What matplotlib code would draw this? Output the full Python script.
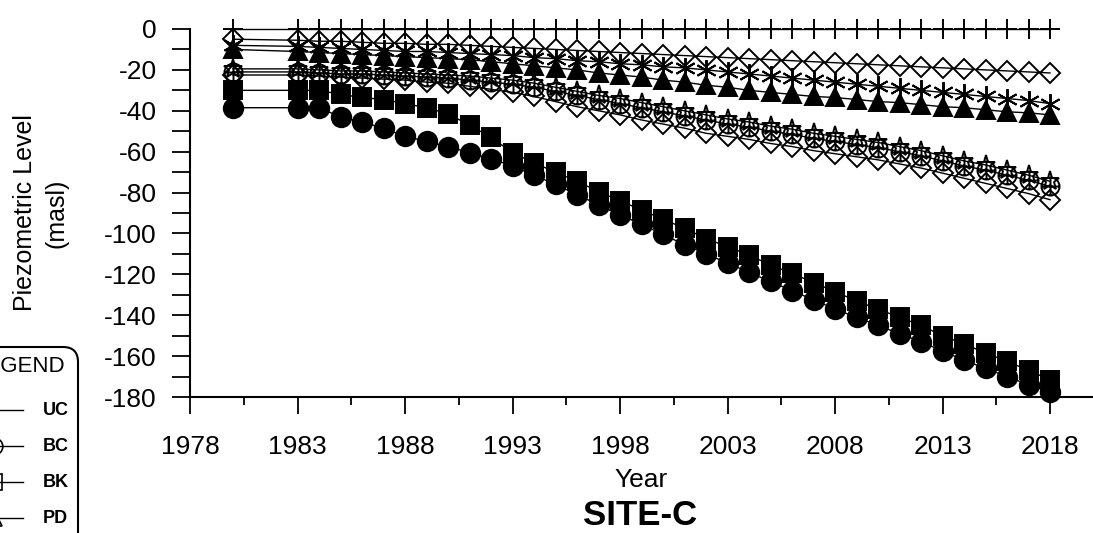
import matplotlib
matplotlib.use("Agg")
import matplotlib.pyplot as plt
import numpy as np
from matplotlib.lines import Line2D
from matplotlib.patches import FancyBboxPatch
from matplotlib.path import Path

plt.rcParams["font.family"] = ["Liberation Sans", "DejaVu Sans"]
plt.rcParams["axes.unicode_minus"] = False

# ---- data (masl) ----
years = [1980, 1983, 1984, 1985, 1986, 1987, 1988, 1989, 1990, 1991,
         1992, 1993, 1994, 1995, 1996, 1997, 1998, 1999, 2000, 2001,
         2002, 2003, 2004, 2005, 2006, 2007, 2008, 2009, 2010, 2011,
         2012, 2013, 2014, 2015, 2016, 2017, 2018]

plus_level = [0, 0, 0, 0, 0, 0, 0, 0, 0, 0,
              0, 0, 0, 0, 0, 0, 0, 0, 0, 0,
              0, 0, 0, 0, 0, 0, 0, 0, 0, 0,
              0, 0, 0, 0, 0, 0, 0]

diamond_hi = [-5, -5.5, -6, -6, -6.5, -7, -7, -7.5, -7.5, -8,
              -8.5, -9, -9.5, -10, -10.5, -11, -11.5, -12, -12.5, -13,
              -13.5, -14, -14.5, -15, -15.5, -16, -16.5, -17, -17.5, -18,
              -18.5, -19, -19.5, -20, -20.5, -21, -21.5]

asterisk = [-8, -8.5, -9, -9.5, -10, -10.5, -11, -11, -11.5, -12,
            -12.5, -13, -14, -14.5, -15.5, -16, -17, -17.5, -18.5, -19,
            -20, -21, -22, -23, -24, -25, -26, -27, -28, -29,
            -30, -31, -32, -33, -34, -35, -36.5]

triangle = [-10, -11, -11.5, -12, -12.5, -13, -13.5, -14, -14.5, -15,
            -16, -17, -18, -19, -20, -21.5, -22.5, -23.5, -25, -26,
            -27.5, -28.5, -30, -31, -32, -33, -33.5, -34.5, -35.5, -36,
            -37, -38, -38.5, -39.5, -40.5, -41, -42]

star = [-19.5, -19.5, -20, -20.5, -20.5, -21, -21.5, -22, -22.5, -23,
        -24, -25, -26.5, -28.5, -30.5, -32.5, -34, -36, -38, -40,
        -42, -44, -45.5, -47.5, -49, -51, -52.5, -54, -55.5, -57.5,
        -59.5, -62, -64.5, -66.5, -69, -71.5, -74.5]

circ_cross = [-21, -21, -21.5, -22, -22, -22.5, -23, -23.5, -24, -25,
              -26, -27, -28.5, -30.5, -32.5, -34.5, -36.5, -38.5, -40.5, -42.5,
              -44.5, -46.5, -48, -50, -51.5, -53.5, -55, -56.5, -58, -60,
              -62, -64.5, -67, -69, -71.5, -74, -77]

diamond_lo = [-22.5, -22.5, -23, -23.5, -24, -24.5, -25, -26, -26.5, -28,
              -29.5, -31, -33, -35.5, -38, -40, -42, -44.5, -46.5, -48.5,
              -51, -52.5, -54, -56, -57.5, -59.5, -61, -62.5, -64, -66,
              -68, -70.5, -73, -75.5, -78, -80.5, -83.5]

square = [-30, -30, -30, -32, -33.5, -34.5, -36.5, -38.5, -41.5, -47,
          -53, -60.5, -65.5, -70, -74.5, -79.5, -84, -88.5, -93, -97.5,
          -102.5, -106.5, -110.5, -115.5, -119.5, -124, -128.5, -133, -137, -141,
          -145, -150, -154, -158.5, -162.5, -167, -171.5]

circle = [-38.5, -38.5, -38.5, -43, -45.5, -48.5, -52.5, -55, -57.5, -60.5,
          -63.5, -67, -71.5, -76, -81, -86, -91, -95.5, -100.5, -105.5,
          -110, -114.5, -119, -123.5, -128, -132.5, -137, -141, -145, -149,
          -153, -157.5, -162, -166, -170, -174, -177.5]

legend_labels = ["UC", "BC", "BK", "PD"]
legend_marks = [None, "o", "s", "^"]

# circle with a cross inside
m_cc = Path.make_compound_path(
    Path.unit_circle(),
    Path([(-1, 0), (1, 0), (0, -1), (0, 1)],
         [Path.MOVETO, Path.LINETO, Path.MOVETO, Path.LINETO]))

W, H = 1093, 533
fig = plt.figure(figsize=(W / 100, H / 100), dpi=100)
ax = fig.add_axes([190 / W, 1 - 397 / H, (W - 190) / W, (397 - 29) / H])

kw = dict(color="black", lw=1.0, mew=1.4, clip_on=False)
ax.plot(years, plus_level, marker="+", ms=14, **kw)
ax.plot(years, diamond_hi, marker="D", ms=10, mfc="none", **kw)
ax.plot(years, asterisk, marker=(6, 2, 0), ms=15, **kw)
ax.plot(years, triangle, marker="^", ms=13, mfc="black", **kw)
ax.plot(years, star, marker="*", ms=14, mfc="none", **kw)
ax.plot(years, circ_cross, marker=m_cc, ms=13, mfc="none", **kw)
ax.plot(years, diamond_lo, marker="D", ms=10, mfc="none", **kw)
ax.plot(years, square, marker="s", ms=13, mfc="black", **kw)
ax.plot(years, circle, marker="o", ms=14, mfc="black", **kw)

ax.set_xlim(1978, 2020)
ax.set_ylim(-180, 0)
for s in ["top", "right"]:
    ax.spines[s].set_visible(False)
for s in ["left", "bottom"]:
    ax.spines[s].set_linewidth(1.5)

ax.set_xticks(np.arange(1978, 2019, 5))
ax.set_xticks(np.arange(1980.5, 2019, 5), minor=True)
ax.set_yticks(np.arange(-180, 1, 20))
ax.set_yticks(np.arange(-170, 0, 20), minor=True)
ax.tick_params(axis="x", which="major", length=12, width=1.3, pad=15, labelsize=19)
ax.tick_params(axis="x", which="minor", length=6, width=1.3)
ax.tick_params(axis="y", which="both", length=13, width=1.3, pad=11, labelsize=19)

fig.text(41 / W, 1 - 213 / H, "Piezometric Level\n(masl)", rotation=90,
         ha="center", va="center", fontsize=18, linespacing=1.4)
fig.text(641 / W, 1 - 487 / H, "Year", ha="center", va="baseline", fontsize=19)
fig.text(640 / W, 1 - 525 / H, "SITE-C", ha="center", va="baseline",
         fontsize=25, fontweight="bold")

# legend box, cut by the left/bottom edge like in the scan
din = fig.dpi_scale_trans
fig.add_artist(FancyBboxPatch((-1.0, -1.0), 1.78, 2.86,
                              boxstyle="round,pad=0,rounding_size=0.15",
                              transform=din, fill=False, lw=1.5, ec="black"))
fig.text(-0.27, 1.61, "LEGEND", transform=din, fontsize=16, va="baseline")
for i, (lab, mk) in enumerate(zip(legend_labels, legend_marks)):
    yl = 1.23 - i * 0.36
    fig.add_artist(Line2D([-0.3, 0.23], [yl, yl], transform=din, color="black", lw=1.0))
    if mk is not None:
        fig.add_artist(Line2D([-0.06], [yl], transform=din, marker=mk, ms=12,
                              mfc="none", mec="black", mew=1.2, ls="none"))
    fig.text(0.43, yl - 0.05, lab, transform=din, fontsize=13,
             fontweight="bold", va="baseline")

plt.savefig("out.png", dpi=100)
